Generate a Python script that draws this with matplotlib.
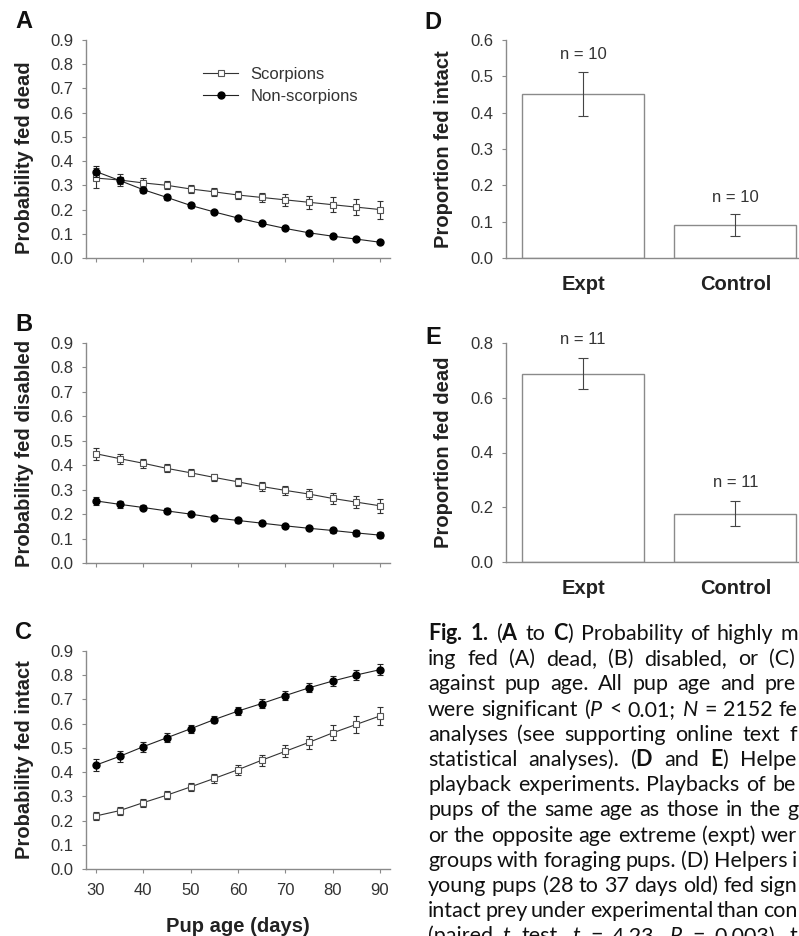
import matplotlib
matplotlib.use('Agg')
import matplotlib.pyplot as plt
from matplotlib.lines import Line2D

plt.rcParams['font.family'] = ['Liberation Sans', 'DejaVu Sans']
plt.rcParams['mathtext.fontset'] = 'custom'
plt.rcParams['mathtext.rm'] = 'Lato'
plt.rcParams['mathtext.bf'] = 'Lato:bold'
plt.rcParams['mathtext.it'] = 'Lato:italic'

# pup age (days)
age = [30, 35, 40, 45, 50, 55, 60, 65, 70, 75, 80, 85, 90]

# A - fed dead
dead_scorp = [0.33, 0.322, 0.31, 0.30, 0.285, 0.273, 0.26, 0.25, 0.24, 0.23, 0.22, 0.21, 0.20]
dead_scorp_err = [0.04, 0.025, 0.02, 0.017, 0.015, 0.015, 0.018, 0.02, 0.024, 0.027, 0.03, 0.034, 0.037]
dead_non = [0.357, 0.32, 0.282, 0.25, 0.217, 0.19, 0.165, 0.143, 0.122, 0.104, 0.09, 0.078, 0.065]
dead_non_err = [0.022, 0.016, 0.013, 0.01, 0.009, 0.008, 0.008, 0.007, 0.007, 0.007, 0.007, 0.007, 0.007]

# B - fed disabled
dis_scorp = [0.447, 0.427, 0.408, 0.387, 0.369, 0.35, 0.332, 0.313, 0.297, 0.282, 0.264, 0.249, 0.234]
dis_scorp_err = [0.025, 0.02, 0.018, 0.016, 0.015, 0.015, 0.016, 0.017, 0.019, 0.021, 0.024, 0.026, 0.028]
dis_non = [0.254, 0.24, 0.227, 0.213, 0.20, 0.185, 0.174, 0.163, 0.152, 0.142, 0.133, 0.123, 0.114]
dis_non_err = [0.018, 0.014, 0.012, 0.01, 0.009, 0.009, 0.009, 0.009, 0.009, 0.009, 0.01, 0.011, 0.012]

# C - fed intact
int_scorp = [0.219, 0.241, 0.274, 0.305, 0.339, 0.374, 0.41, 0.449, 0.486, 0.523, 0.562, 0.597, 0.632]
int_scorp_err = [0.017, 0.016, 0.016, 0.016, 0.017, 0.018, 0.02, 0.022, 0.025, 0.028, 0.031, 0.034, 0.037]
int_non = [0.429, 0.465, 0.505, 0.542, 0.579, 0.617, 0.652, 0.683, 0.716, 0.748, 0.776, 0.801, 0.823]
int_non_err = [0.025, 0.022, 0.02, 0.018, 0.017, 0.016, 0.016, 0.017, 0.018, 0.019, 0.02, 0.021, 0.023]

# D/E - playback experiments
conds = ['Expt', 'Control']
d_vals = [0.452, 0.09]
d_err = [0.06, 0.03]
d_n = ['n = 10', 'n = 10']
e_vals = [0.688, 0.177]
e_err = [0.056, 0.047]
e_n = ['n = 11', 'n = 11']

# caption as far as it is visible on the page crop
caption = [
    r"$\mathbf{Fig.}$ $\mathbf{1.}$ ($\mathbf{A}$ to $\mathbf{C}$) Probability of highly m",
    "ing fed (A) dead, (B) disabled, or (C)",
    "against pup age. All pup age and pre",
    r"were significant ($P$ < 0.01; $N$ = 2152 fe",
    "analyses (see supporting online text f",
    r"statistical analyses). ($\mathbf{D}$ and $\mathbf{E}$) Helpe",
    "playback experiments. Playbacks of be",
    "pups of the same age as those in the g",
    "or the opposite age extreme (expt) wer",
    "groups with foraging pups. (D) Helpers i",
    "young pups (28 to 37 days old) fed sign",
    "intact prey under experimental than con",
    r"(paired $t$ test, $t$ = 4.23, $P$ = 0.003), t",
]
cap_ends = [798, 795, 796, 797, 797, 796, 796, 798, 797, 797, 797, 797, 797]

W, H = 799, 936
fig = plt.figure(figsize=(W / 100, H / 100), dpi=100)
fig.patch.set_facecolor('white')

spine_c = '#8a8a8a'
txt_c = '#333333'


def box(x0, y0, x1, y1):
    # pixel box (top-left origin) -> figure fraction rect
    return [x0 / W, 1 - y1 / H, (x1 - x0) / W, (y1 - y0) / H]


def style(ax):
    for s in ['top', 'right']:
        ax.spines[s].set_visible(False)
    for s in ['left', 'bottom']:
        ax.spines[s].set_color(spine_c)
        ax.spines[s].set_linewidth(1.0)
    ax.tick_params(direction='out', length=3, width=0.8, color=spine_c,
                   labelsize=12, labelcolor=txt_c, pad=6)


def line_panel(rect, s, se, n, ne, ylab, letter, laby=0.5, xlabels=False):
    ax = fig.add_axes(rect)
    style(ax)
    ax.errorbar(age, s, yerr=se, color='#333333', lw=0.8, elinewidth=0.8,
                capsize=2.5, capthick=0.8, marker='s', ms=4.5, mfc='white',
                mec='#555555', mew=0.8, zorder=3)
    ax.errorbar(age, n, yerr=ne, color='#222222', lw=0.8, elinewidth=0.8,
                capsize=2.5, capthick=0.8, marker='o', ms=5, mfc='black',
                mec='black', zorder=4)
    ax.set_xlim(27.9, 92.1)
    ax.set_ylim(0, 0.9)
    ax.set_yticks([0.0, 0.1, 0.2, 0.3, 0.4, 0.5, 0.6, 0.7, 0.8, 0.9])
    ax.set_yticklabels(['%.1f' % v for v in ax.get_yticks()])
    ax.set_xticks([30, 40, 50, 60, 70, 80, 90])
    if not xlabels:
        ax.set_xticklabels([])
    else:
        ax.tick_params(axis='x', pad=7)
    ax.set_ylabel(ylab, fontsize=14.5, fontweight='bold', color='#222222')
    ax.yaxis.set_label_coords(-0.172, laby)
    ax.text(-0.204, 1.083, letter, transform=ax.transAxes, fontsize=17,
            fontweight='bold', ha='center', va='center', color='#111111')
    return ax


axA = line_panel(box(86, 40, 390, 258), dead_scorp, dead_scorp_err, dead_non,
                 dead_non_err, 'Probability fed dead', 'A', laby=0.46)
handles = [Line2D([], [], color='#333333', lw=0.8, marker='s', ms=4.5,
                  mfc='white', mec='#555555', mew=0.8),
           Line2D([], [], color='#222222', lw=0.8, marker='o', ms=5,
                  mfc='black', mec='black')]
leg = axA.legend(handles, ['Scorpions', 'Non-scorpions'], loc='upper left',
                 bbox_to_anchor=(0.385, 0.877), frameon=False, fontsize=12,
                 handlelength=2.1, handletextpad=0.75, labelspacing=0.45,
                 borderpad=0, borderaxespad=0)
for t in leg.get_texts():
    t.set_color(txt_c)

line_panel(box(86, 343, 390, 563), dis_scorp, dis_scorp_err, dis_non,
           dis_non_err, 'Probability fed disabled', 'B')
axC = line_panel(box(86, 651, 390, 869), int_scorp, int_scorp_err, int_non,
                 int_non_err, 'Probability fed intact', 'C', xlabels=True)
axC.set_xlabel('Pup age (days)', fontsize=14.5, fontweight='bold',
               color='#222222', labelpad=14)


def bar_panel(rect, vals, err, ns, ymax, yticks, ylab, letter, lety, noff):
    ax = fig.add_axes(rect)
    style(ax)
    x = [0, 1]
    ax.bar(x, vals, width=0.8, color='white', edgecolor='#8a8a8a', lw=1.0)
    ax.errorbar(x, vals, yerr=err, fmt='none', ecolor='#444444',
                elinewidth=0.8, capsize=3.5, capthick=0.8)
    for xi, v, e, lab in zip(x, vals, err, ns):
        ax.annotate(lab, (xi, v + e), xytext=(0, noff), textcoords='offset points',
                    ha='center', va='bottom', fontsize=12, color=txt_c)
    ax.set_xlim(-0.507, 1.418)
    ax.set_ylim(0, ymax)
    ax.set_yticks(yticks)
    ax.set_yticklabels(['%.1f' % v for v in yticks])
    ax.set_xticks(x)
    ax.set_xticklabels(conds, fontsize=14.5, fontweight='bold', color='#222222')
    ax.tick_params(axis='x', length=0, pad=12)
    ax.set_ylabel(ylab, fontsize=14.5, fontweight='bold', color='#222222')
    ax.yaxis.set_label_coords(-0.18, 0.5)
    ax.text(-0.249, lety, letter, transform=ax.transAxes, fontsize=17,
            fontweight='bold', ha='center', va='center', color='#111111')
    return ax


bar_panel(box(506, 40, 799, 258), d_vals, d_err, d_n, 0.6,
          [0.0, 0.1, 0.2, 0.3, 0.4, 0.5, 0.6], 'Proportion fed intact', 'D',
          1.078, 7)
bar_panel(box(506, 343, 799, 562), e_vals, e_err, e_n, 0.8,
          [0.0, 0.2, 0.4, 0.6, 0.8], 'Proportion fed dead', 'E', 1.025, 8)

# caption, justified word by word like the printed column
renderer = fig.canvas.get_renderer()
x0 = 428
for i, (line, x_end) in enumerate(zip(caption, cap_ends)):
    y = 1 - (640 + i * 25.2) / H
    words = line.split(' ')
    texts = []
    widths = []
    for w in words:
        t = fig.text(0, y, w, fontsize=15.5, family=['Lato', 'DejaVu Sans'],
                     color='#111111', ha='left', va='baseline')
        texts.append(t)
        widths.append(t.get_window_extent(renderer).width)
    gap = (x_end - x0 - sum(widths)) / (len(words) - 1)
    xp = x0
    for t, wd in zip(texts, widths):
        t.set_x(xp / W)
        xp += wd + gap

fig.savefig('out.png', dpi=100, facecolor='white')
